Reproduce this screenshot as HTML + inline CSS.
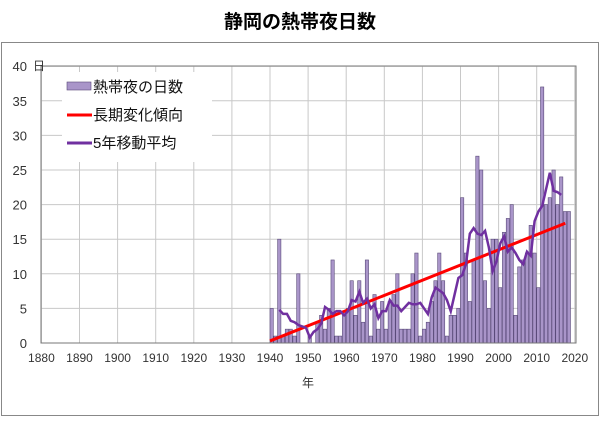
<!DOCTYPE html><html><head><meta charset="utf-8"><style>
body{margin:0;background:#fff;width:600px;height:417px;overflow:hidden}
text{font-family:"Liberation Sans","Noto Sans CJK JP",sans-serif}
</style></head><body>
<svg id="s" width="600" height="417" xmlns="http://www.w3.org/2000/svg">
<rect x="1.5" y="42.5" width="597" height="373" fill="#fff" stroke="#888"/>
<text x="300" y="28" font-size="19" font-weight="bold" text-anchor="middle" fill="#000">静岡の熱帯夜日数</text>
<g id="g"></g>
</svg>
<script>
const s=document.getElementById('g');let h='';
const X=y=>41.4+(y-1880)*3.81, Y=v=>343-v*6.92;
for(let y=1880;y<=2020;y+=10){h+=`<line x1="${X(y)}" y1="66" x2="${X(y)}" y2="343" stroke="#c8c8c8"/>`;h+=`<text x="${X(y)}" y="362" font-size="12" text-anchor="middle" fill="#333">${y}</text>`}
for(let v=0;v<=40;v+=5){h+=`<line x1="41" y1="${Y(v)}" x2="576" y2="${Y(v)}" stroke="#c8c8c8"/>`;h+=`<text x="27" y="${Y(v)+5}" font-size="13" text-anchor="end" fill="#333">${v}</text>`}
const d=[5,1,15,1,2,2,1,10,0,0,1,0,3,4,2,5,12,1,1,4,5,9,4,9,3,12,1,7,2,6,2,6,7,10,2,2,2,10,13,1,2,3,6,9,13,9,1,4,4,5,21,13,6,12,27,25,9,5,15,15,8,16,18,20,4,11,12,13,17,13,8,37,20,21,25,20,24,19,19];
d.forEach((v,i)=>{const x=X(1940+i);if(v>0)h+=`<rect x="${x}" y="${Y(v)}" width="3.3" height="${v*6.92}" fill="#a995c9" stroke="#5a4a7a" stroke-width="0.6"/>`});
h+=`<rect x="41" y="66" width="535" height="277" fill="none" stroke="#777"/>`;
h+=`<line x1="${X(1940)}" y1="${Y(0.3)}" x2="${X(2017.5)}" y2="${Y(17.3)}" stroke="#f00" stroke-width="3"/>`;
let p=[];for(let i=2;i<d.length-2;i++){let m=(d[i-2]+d[i-1]+d[i]+d[i+1]+d[i+2])/5;p.push(X(1940+i)+1.7+','+Y(m))}
h+=`<polyline points="${p.join(' ')}" fill="none" stroke="#7030a0" stroke-width="2.5"/>`;
h+=`<rect x="62" y="72" width="150" height="90" fill="#fff"/>`;
h+=`<rect x="67" y="82" width="24" height="8" fill="#a995c9" stroke="#5a4a7a" stroke-width="0.6"/><text x="93" y="92" font-size="15" fill="#111">熱帯夜の日数</text>`;
h+=`<line x1="67" y1="115" x2="92" y2="115" stroke="#f00" stroke-width="3"/><text x="93" y="120" font-size="15" fill="#111">長期変化傾向</text>`;
h+=`<line x1="67" y1="143" x2="92" y2="143" stroke="#7030a0" stroke-width="3"/><text x="93" y="148" font-size="15" fill="#111">5年移動平均</text>`;
h+=`<text x="33" y="70" font-size="12" fill="#333">日</text><text x="308" y="387" font-size="12" text-anchor="middle" fill="#333">年</text>`;
s.innerHTML=h;
</script></body></html>
